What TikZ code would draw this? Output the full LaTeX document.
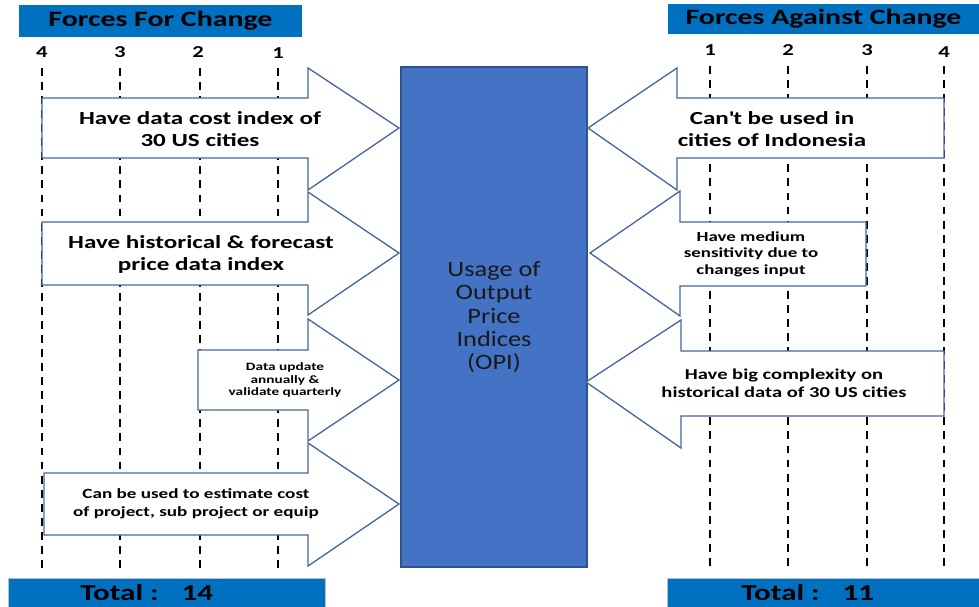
\documentclass[tikz,border=0pt]{standalone}
\usepackage{fontspec}
\setmainfont{Carlito}[FakeStretch=1.36]
\newfontfamily\opifont{Carlito}[FakeStretch=1.2]
\usepackage{xcolor}
\usepackage{tikz}
\usetikzlibrary{positioning}

\definecolor{bannerblue}{HTML}{0070C0}
\definecolor{opiblue}{HTML}{4472C4}
\definecolor{opiedge}{HTML}{2F528F}
\definecolor{arrowedge}{HTML}{44679F}

\begin{document}
\begin{tikzpicture}[x=0.02cm, y=-0.02cm,
  force/.style={draw=arrowedge, fill=white, line width=0.75pt, line join=miter},
  guide/.style={draw=black, line width=1.15pt, dash pattern=on 4.5pt off 3.5pt},
  banner/.style={fill=bannerblue, inner sep=0pt, font=\bfseries\fontsize{12.5}{14}\selectfont},
  num/.style={font=\bfseries\fontsize{9.5}{11}\selectfont},
  txt/.style={align=center, font=\bfseries\fontsize{10.5}{12.5}\selectfont}]

\useasboundingbox (0,0) rectangle (979,606);

% titles
\node[banner, minimum width=283*0.02cm, minimum height=32*0.02cm] (forT) at (160.5,21) {Forces For Change};
\node[banner, minimum width=311*0.02cm, minimum height=30*0.02cm] (agT) at (823.5,19) {Forces Against Change};

% scale numbers
\node[num] (f4) at (42,52) {4};
\node[num] (f3) at (120,52) {3};
\node[num] (f2) at (198,52) {2};
\node[num] (f1) at (278,53) {1};
\node[num] (a1) at (710,50) {1};
\node[num] (a2) at (788,50) {2};
\node[num] (a3) at (867,50) {3};
\node[num] (a4) at (944,52) {4};

% dashed guides
\foreach \gx in {42,120,200,278} {
  \draw[guide] (\gx,68) -- (\gx,568);
}
\foreach \gx in {710,788,867,944} {
  \draw[guide] (\gx,66) -- (\gx,566);
}

% middle box
\node[draw=opiedge, fill=opiblue, line width=1pt, minimum width=186*0.02cm, minimum height=500*0.02cm,
  align=center, text=black!90, font=\opifont\fontsize{12.5}{13.3}\selectfont] (opi) at (494,317)
  {Usage of\\Output\\Price\\Indices\\(OPI)};

% forces for change
\draw[force] (42,98) -- (308,98) -- (308,68) -- (399,128) -- (308,190) -- (308,158) -- (42,158) -- cycle;
\node[txt] (for1) at (200,129) {Have data cost index of\\30 US cities};

\draw[force] (42,222) -- (308,222) -- (308,192) -- (399,253) -- (308,315) -- (308,285) -- (42,285) -- cycle;
\node[txt] (for2) at (201,254) {Have historical \& forecast\\price data index};

\draw[force] (198,350) -- (308,350) -- (308,319) -- (399,380) -- (308,441) -- (308,410) -- (198,410) -- cycle;
\node[txt, font=\bfseries\fontsize{6.4}{7}\selectfont] (for3) at (285,380) {Data update\\annually \&\\validate quarterly};

\draw[force] (44,473) -- (308,473) -- (308,443) -- (399,504) -- (308,566) -- (308,535) -- (44,535) -- cycle;
\node[txt, font=\bfseries\fontsize{8}{10}\selectfont] (for4) at (196,504) {Can be used to estimate cost\\of project, sub project or equip};

% forces against change
\draw[force] (944,98) -- (677,98) -- (677,68) -- (588,128) -- (677,190) -- (677,158) -- (944,158) -- cycle;
\node[txt] (ag1) at (772,129) {Can\textquotesingle t be used in\\cities of Indonesia};

\draw[force] (866,222) -- (680,222) -- (680,191) -- (590,253) -- (680,316) -- (680,286) -- (866,286) -- cycle;
\node[txt, font=\bfseries\fontsize{7.9}{9.3}\selectfont] (ag2) at (751,254) {Have medium\\sensitivity due to\\changes input};

\draw[force] (944,351) -- (681,351) -- (681,320) -- (586,382) -- (681,448) -- (681,416) -- (944,416) -- cycle;
\node[txt, font=\bfseries\fontsize{8.6}{10.5}\selectfont] (ag3) at (784,383) {Have big complexity on\\historical data of 30 US cities};

% totals
\node[banner, draw=black!25, minimum width=317*0.02cm, minimum height=30*0.02cm] (forTot) at (166.5,593) {};
\node[banner, anchor=west, font=\bfseries\fontsize{13}{14}\selectfont] (forNum) at (80,593) {Total :\quad 14};
\node[banner, draw=black!25, minimum width=312*0.02cm, minimum height=30*0.02cm] (agTot) at (823,593) {};
\node[banner, anchor=west, font=\bfseries\fontsize{13}{14}\selectfont] (agNum) at (741,593) {Total :\quad 11};

\end{tikzpicture}
\end{document}
